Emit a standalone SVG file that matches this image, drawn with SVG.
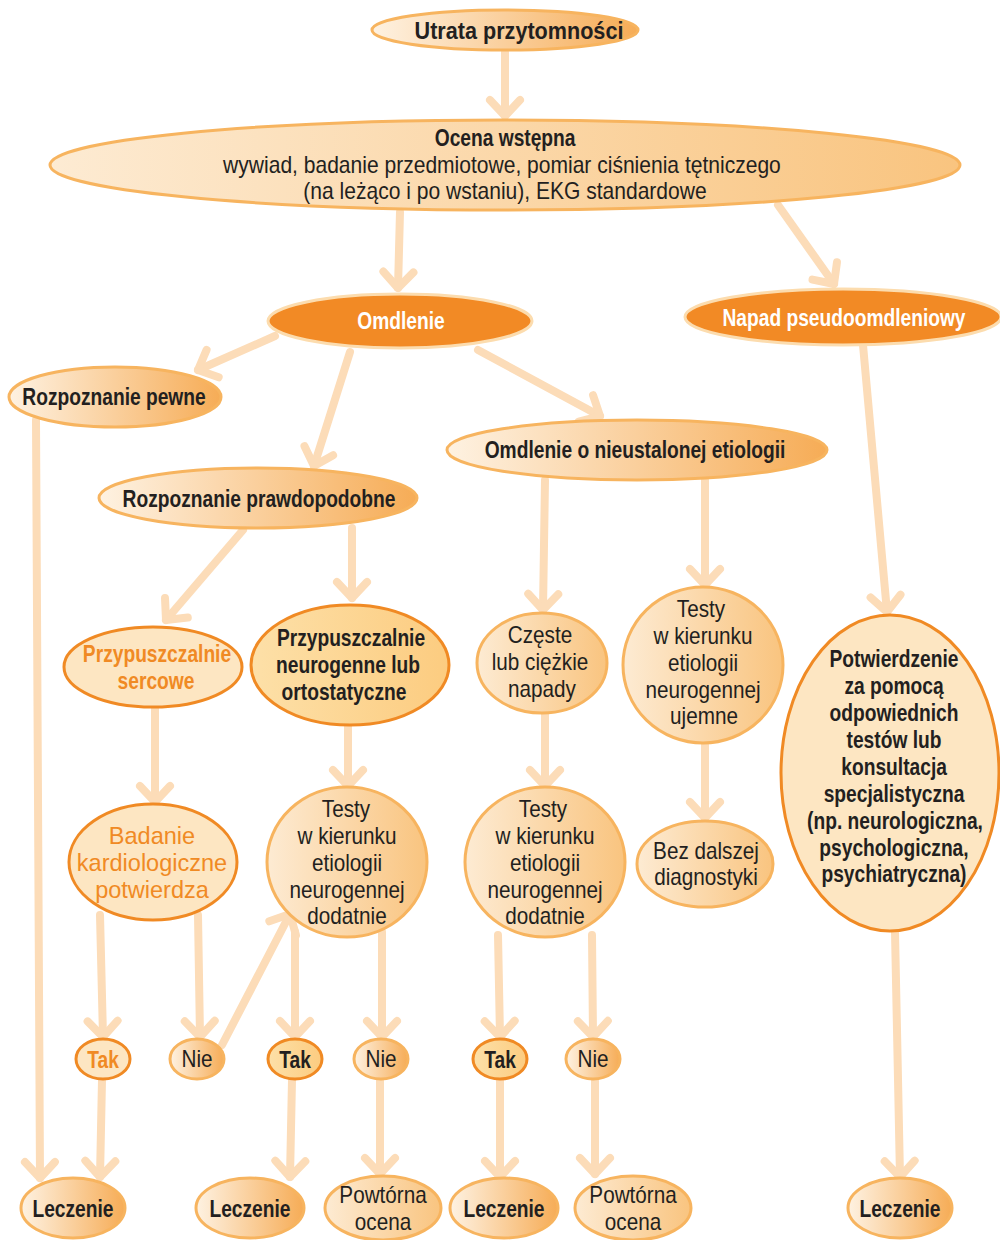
<svg xmlns="http://www.w3.org/2000/svg" width="1000" height="1240" viewBox="0 0 1000 1240">
<style>
text{font-family:"Liberation Sans",Arial,sans-serif;text-anchor:middle;fill:#231f20;font-size:23px;transform-box:fill-box;transform-origin:center;transform:scaleX(0.9)}
.b{font-weight:bold;font-size:24px;transform:scaleX(0.8)}
.u{transform:scaleX(0.9)}
.oc{transform:scaleX(0.915)}
.bd{font-size:24px;transform:scaleX(0.98)}
.w{fill:#ffffff}
.o{fill:#f08a24}
.nA{fill:url(#gA);stroke:#f7b45f;stroke-width:3}
.nT{fill:url(#gT);stroke:#f7b45f;stroke-width:3}
.nB{fill:#f28a25;stroke:#fcdcae;stroke-width:3}
.nC{fill:#fde6c2;stroke:#f08a24;stroke-width:3}
.nD{fill:url(#gD);stroke:#f08a24;stroke-width:3}
.c{fill:none;stroke:#fcdcb8;stroke-width:8;stroke-linecap:round;marker-end:url(#ah)}
</style>
<defs>
<linearGradient id="gA" x1="0" y1="0" x2="1" y2="0"><stop offset="0" stop-color="#fef2e2"/><stop offset="1" stop-color="#f6ac56"/></linearGradient>
<linearGradient id="gT" x1="0" y1="0" x2="1" y2="0"><stop offset="0" stop-color="#fdebd3"/><stop offset="1" stop-color="#f9c47f"/></linearGradient>
<linearGradient id="gD" x1="0" y1="0" x2="1" y2="0"><stop offset="0" stop-color="#fde0a8"/><stop offset="1" stop-color="#fccc80"/></linearGradient>
<marker id="ah" markerUnits="userSpaceOnUse" viewBox="-30 -20 40 40" refX="0" refY="0" markerWidth="40" markerHeight="40" orient="auto">
<path d="M-16,-15 L0,0 L-16,15" fill="none" stroke="#fcdcb8" stroke-width="8" stroke-linecap="round" stroke-linejoin="round"/>
</marker>
</defs>
<g id="connectors">
<line class="c" x1="505" y1="52" x2="505" y2="116"/>
<line class="c" x1="400" y1="212" x2="398" y2="288"/>
<line class="c" x1="778" y1="205" x2="834" y2="284"/>
<line class="c" x1="275" y1="336" x2="198" y2="370"/>
<line class="c" x1="350" y1="352" x2="314" y2="466"/>
<line class="c" x1="478" y1="350" x2="600" y2="416"/>
<line class="c" x1="36" y1="420" x2="40" y2="1178"/>
<line class="c" x1="243" y1="530" x2="166" y2="620"/>
<line class="c" x1="352" y1="528" x2="352" y2="598"/>
<line class="c" x1="545" y1="480" x2="543" y2="610"/>
<line class="c" x1="705" y1="480" x2="705" y2="585"/>
<line class="c" x1="863" y1="345" x2="887" y2="612"/>
<line class="c" x1="155" y1="707" x2="155" y2="802"/>
<line class="c" x1="348" y1="725" x2="348" y2="786"/>
<line class="c" x1="545" y1="713" x2="545" y2="786"/>
<line class="c" x1="705" y1="743" x2="705" y2="818"/>
<line class="c" x1="100" y1="915" x2="103" y2="1037"/>
<line class="c" x1="198" y1="915" x2="200" y2="1037"/>
<line class="c" x1="222" y1="1045" x2="290" y2="914"/>
<line class="c" x1="295" y1="932" x2="295" y2="1037"/>
<line class="c" x1="382" y1="932" x2="382" y2="1037"/>
<line class="c" x1="498" y1="935" x2="500" y2="1037"/>
<line class="c" x1="592" y1="935" x2="593" y2="1037"/>
<line class="c" x1="102" y1="1080" x2="100" y2="1177"/>
<line class="c" x1="292" y1="1080" x2="290" y2="1177"/>
<line class="c" x1="380" y1="1080" x2="380" y2="1174"/>
<line class="c" x1="500" y1="1080" x2="500" y2="1177"/>
<line class="c" x1="595" y1="1080" x2="595" y2="1174"/>
<line class="c" x1="895" y1="932" x2="900" y2="1177"/>
</g>
<g id="n-utrata"><ellipse class="nA" cx="505" cy="30" rx="133" ry="20"/><text class="b u" x="519" y="39">Utrata przytomności</text></g>
<g id="n-ocena"><ellipse class="nT" cx="505" cy="165" rx="455" ry="45"/>
<text class="b" x="505" y="146">Ocena wstępna</text>
<text class="oc" x="502" y="173">wywiad, badanie przedmiotowe, pomiar ciśnienia tętniczego</text>
<text class="oc" x="505" y="199">(na leżąco i po wstaniu), EKG standardowe</text></g>
<g id="n-omdlenie"><ellipse class="nB" cx="400" cy="321" rx="132" ry="27"/><text class="b w" x="401" y="329">Omdlenie</text></g>
<g id="n-napad"><ellipse class="nB" cx="843" cy="317" rx="158" ry="28"/><text class="b w" x="844" y="326">Napad pseudoomdleniowy</text></g>
<g id="n-pewne"><ellipse class="nA" cx="115" cy="397" rx="106" ry="30"/><text class="b" x="114" y="405">Rozpoznanie pewne</text></g>
<g id="n-prawdop"><ellipse class="nA" cx="258" cy="498" rx="159" ry="30"/><text class="b" x="259" y="507">Rozpoznanie prawdopodobne</text></g>
<g id="n-nieustal"><ellipse class="nA" cx="637" cy="450" rx="190" ry="30"/><text class="b" x="635" y="458">Omdlenie o nieustalonej etiologii</text></g>
<g id="n-sercowe"><ellipse class="nC" cx="153" cy="667" rx="89" ry="40"/><text class="b o" x="157" y="662">Przypuszczalnie</text><text class="b o" x="156" y="689">sercowe</text></g>
<g id="n-neuro"><ellipse class="nD" cx="350" cy="665" rx="99" ry="60"/><text class="b" x="351" y="646">Przypuszczalnie</text><text class="b" x="348" y="673">neurogenne lub</text><text class="b" x="344" y="700">ortostatyczne</text></g>
<g id="n-czeste"><ellipse class="nT" cx="542" cy="663" rx="65" ry="50"/><text x="540" y="643">Częste</text><text x="540" y="670">lub ciężkie</text><text x="542" y="697">napady</text></g>
<g id="n-ujemne"><ellipse class="nT" cx="703" cy="665" rx="80" ry="78"/><text x="701" y="617">Testy</text><text x="703" y="644">w kierunku</text><text x="703" y="671">etiologii</text><text x="703" y="698">neurogennej</text><text x="704" y="724">ujemne</text></g>
<g id="n-potw"><ellipse class="nC" cx="890" cy="773" rx="109" ry="158"/>
<text class="b" x="894" y="667">Potwierdzenie</text><text class="b" x="894" y="694">za pomocą</text><text class="b" x="894" y="721">odpowiednich</text><text class="b" x="894" y="748">testów lub</text><text class="b" x="894" y="775">konsultacja</text><text class="b" x="894" y="802">specjalistyczna</text><text class="b" x="895" y="829">(np. neurologiczna,</text><text class="b" x="894" y="856">psychologiczna,</text><text class="b" x="894" y="882">psychiatryczna)</text></g>
<g id="n-badanie"><ellipse class="nC" cx="153" cy="862" rx="84" ry="58"/><text class="bd o" x="152" y="844">Badanie</text><text class="bd o" x="152" y="871">kardiologiczne</text><text class="bd o" x="152" y="898">potwierdza</text></g>
<g id="n-testy1"><ellipse class="nT" cx="347" cy="862" rx="80" ry="75"/><text x="346" y="817">Testy</text><text x="347" y="844">w kierunku</text><text x="347" y="871">etiologii</text><text x="347" y="898">neurogennej</text><text x="347" y="924">dodatnie</text></g>
<g id="n-testy2"><ellipse class="nT" cx="545" cy="862" rx="80" ry="75"/><text x="543" y="817">Testy</text><text x="545" y="844">w kierunku</text><text x="545" y="871">etiologii</text><text x="545" y="898">neurogennej</text><text x="545" y="924">dodatnie</text></g>
<g id="n-bez"><ellipse class="nT" cx="705" cy="864" rx="68" ry="43"/><text x="706" y="859">Bez dalszej</text><text x="706" y="885">diagnostyki</text></g>
<g id="n-tak1"><ellipse class="nC" cx="103" cy="1059" rx="27" ry="20"/><text class="b o" x="103" y="1068">Tak</text></g>
<g id="n-nie1"><ellipse class="nA" cx="197" cy="1059" rx="27" ry="20"/><text x="197" y="1067">Nie</text></g>
<g id="n-tak2"><ellipse class="nD" cx="295" cy="1059" rx="27" ry="20"/><text class="b" x="295" y="1068">Tak</text></g>
<g id="n-nie2"><ellipse class="nA" cx="381" cy="1059" rx="27" ry="20"/><text x="381" y="1067">Nie</text></g>
<g id="n-tak3"><ellipse class="nD" cx="500" cy="1059" rx="27" ry="20"/><text class="b" x="500" y="1068">Tak</text></g>
<g id="n-nie3"><ellipse class="nA" cx="593" cy="1059" rx="27" ry="20"/><text x="593" y="1067">Nie</text></g>
<g id="n-lecz1"><ellipse class="nA" cx="73" cy="1208" rx="52" ry="30"/><text class="b" x="73" y="1217">Leczenie</text></g>
<g id="n-lecz2"><ellipse class="nA" cx="250" cy="1208" rx="54" ry="30"/><text class="b" x="250" y="1217">Leczenie</text></g>
<g id="n-powt1"><ellipse class="nT" cx="383" cy="1208" rx="58" ry="32"/><text x="383" y="1203">Powtórna</text><text x="383" y="1230">ocena</text></g>
<g id="n-lecz3"><ellipse class="nA" cx="504" cy="1208" rx="54" ry="30"/><text class="b" x="504" y="1217">Leczenie</text></g>
<g id="n-powt2"><ellipse class="nT" cx="633" cy="1208" rx="58" ry="32"/><text x="633" y="1203">Powtórna</text><text x="633" y="1230">ocena</text></g>
<g id="n-lecz4"><ellipse class="nA" cx="900" cy="1208" rx="52" ry="30"/><text class="b" x="900" y="1217">Leczenie</text></g>
</svg>
